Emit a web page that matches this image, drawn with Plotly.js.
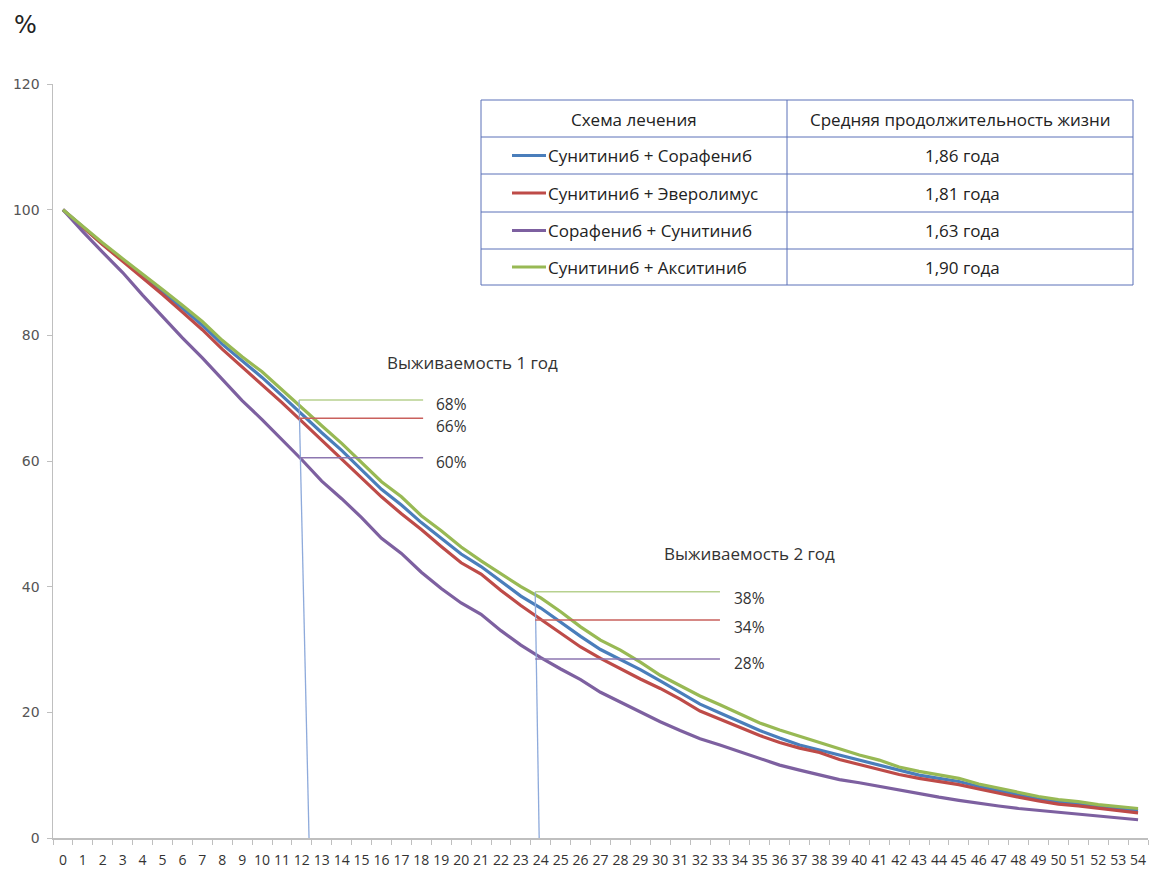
<!DOCTYPE html>
<html>
<head>
<meta charset="utf-8">
<script src="https://cdn.plot.ly/plotly-3.0.1.min.js"></script>
<style>html,body{margin:0;padding:0;background:#fff;}#chart{width:1150px;height:870px;}</style>
</head>
<body>
<div id="chart"></div>
<script>
// ---------- DATA ----------
const months = [0,1,2,3,4,5,6,7,8,9,10,11,12,13,14,15,16,17,18,19,20,21,22,23,24,25,26,27,28,29,30,31,32,33,34,35,36,37,38,39,40,41,42,43,44,45,46,47,48,49,50,51,52,53,54];

const seriesNames = ["Сунитиниб + Сорафениб", "Сунитиниб + Эверолимус", "Сорафениб + Сунитиниб", "Сунитиниб + Акситиниб"];
const medianSurvival = ["1,86 года", "1,81 года", "1,63 года", "1,90 года"];

const sunSor = [100,97.2,94.5,92.0,89.5,86.9,84.3,81.6,78.6,75.9,73.3,70.4,67.4,64.5,61.7,58.6,55.5,53.0,50.2,47.7,45.2,43.2,40.8,38.5,36.6,34.3,32.1,30.0,28.4,26.8,25.0,23.2,21.3,19.9,18.5,17.1,15.9,14.8,14.0,13.2,12.4,11.6,10.7,10.0,9.5,9.0,8.2,7.5,6.8,6.2,5.7,5.4,5.0,4.7,4.4];
const sunEve = [100,97.2,94.4,91.8,89.2,86.5,83.7,80.9,77.8,75.0,72.2,69.3,66.3,63.3,60.4,57.3,54.3,51.6,49.1,46.4,43.8,42.0,39.4,37.0,34.8,32.6,30.4,28.6,26.9,25.3,23.8,22.1,20.2,18.9,17.6,16.3,15.2,14.3,13.6,12.5,11.7,10.9,10.1,9.5,9.0,8.5,7.8,7.1,6.5,5.9,5.4,5.1,4.7,4.3,4.0];
const sorSun = [100,96.5,93.2,90.0,86.4,83.0,79.6,76.4,73.0,69.6,66.6,63.4,60.2,56.8,54.0,51.0,47.7,45.3,42.3,39.7,37.4,35.6,33.0,30.7,28.7,26.9,25.2,23.2,21.6,20.1,18.5,17.1,15.8,14.8,13.7,12.6,11.6,10.8,10.1,9.3,8.8,8.2,7.6,7.0,6.5,6.0,5.5,5.1,4.7,4.4,4.1,3.8,3.5,3.2,2.9];
const sunAxi = [100,97.3,94.7,92.2,89.8,87.3,84.8,82.2,79.2,76.6,74.2,71.3,68.5,65.6,62.8,59.8,56.7,54.3,51.3,48.9,46.3,44.1,42.0,40.0,38.2,36.0,33.6,31.5,29.9,28.0,25.9,24.3,22.6,21.2,19.8,18.3,17.2,16.2,15.1,14.1,13.2,12.4,11.3,10.6,10.1,9.5,8.6,7.9,7.2,6.6,6.1,5.8,5.3,5.0,4.7];

const tickY = [0,20,40,60,80,100,120];

// one-year and two-year survival annotations
const year1Labels = ["68%", "66%", "60%"];
const year1GuideY = [69.7, 66.8, 60.5];
const year1LabelY = [69.0, 65.6, 59.8];
const year2Labels = ["38%", "34%", "28%"];
const year2GuideY = [39.2, 34.7, 28.5];
const year2LabelY = [38.2, 33.6, 27.9];

// ---------- STYLE ----------
const colors = ["#4a7ebb", "#be4b48", "#7d60a0", "#98b954"];
const guideColors = ["#b7d18f", "#c9605d", "#8c76b0"];
const dataSets = [sunSor, sunEve, sorSun, sunAxi];

const L = 53, R = 1148, T = 84, B = 838;
const px = x => (x - L) / (R - L);
const py = y => (B - y) / (B - T);

const traces = dataSets.map((d, i) => ({
  x: months, y: d, type: "scatter", mode: "lines",
  line: {color: colors[i], width: 3.2}, name: seriesNames[i],
  hoverinfo: "x+y+name"
}));

const shapes = [];
const annotations = [];
const afont = {family:"Open Sans", size:17, color:"#333"};
const pfont = {family:"Open Sans", size:15.5, color:"#333"};

// vertical markers
shapes.push({type:"line", xref:"x", yref:"y", x0:11.86, y0:year1GuideY[0], x1:12.36, y1:0, line:{color:"#8eaadb", width:1.3}});
shapes.push({type:"line", xref:"x", yref:"y", x0:23.72, y0:year2GuideY[0], x1:23.92, y1:0, line:{color:"#8eaadb", width:1.3}});

year1GuideY.forEach((v, i) => {
  shapes.push({type:"line", xref:"x", yref:"y", x0:11.86, x1:18.09, y0:v, y1:v, line:{color:guideColors[i], width:1.5}});
  annotations.push({xref:"x", yref:"y", x:18.63, y:year1LabelY[i], text:year1Labels[i], showarrow:false, xanchor:"left", yanchor:"middle", font:pfont});
});
year2GuideY.forEach((v, i) => {
  shapes.push({type:"line", xref:"x", yref:"y", x0:23.72, x1:33.0, y0:v, y1:v, line:{color:guideColors[i], width:1.5}});
  annotations.push({xref:"x", yref:"y", x:33.6, y:year2LabelY[i], text:year2Labels[i], showarrow:false, xanchor:"left", yanchor:"middle", font:pfont});
});

annotations.push({xref:"x", yref:"y", x:16.2, y:75.6, text:"Выживаемость 1 год", showarrow:false, xanchor:"left", yanchor:"middle", font:afont});
annotations.push({xref:"x", yref:"y", x:30.1, y:45.2, text:"Выживаемость 2 год", showarrow:false, xanchor:"left", yanchor:"middle", font:afont});

// "%" label
annotations.push({xref:"paper", yref:"paper", x:px(12), y:py(25), text:"%", showarrow:false, xanchor:"left", yanchor:"middle", font:{family:"DejaVu Sans", size:24, color:"#222"}});

// table legend
const rowsY = [100, 137, 174, 212, 249, 285];
const colsX = [481, 787, 1133];
const tblColor = "#5a70b8";
rowsY.forEach(y => shapes.push({type:"line", xref:"paper", yref:"paper", x0:px(colsX[0]), x1:px(colsX[2]), y0:py(y), y1:py(y), line:{color:tblColor, width:1}}));
colsX.forEach(x => shapes.push({type:"line", xref:"paper", yref:"paper", x0:px(x), x1:px(x), y0:py(rowsY[0]), y1:py(rowsY[5]), line:{color:tblColor, width:1}}));
const tfont = {family:"Open Sans", size:17, color:"#222"};
annotations.push({xref:"paper", yref:"paper", x:px(634), y:py(120), text:"Схема лечения", showarrow:false, xanchor:"center", yanchor:"middle", font:tfont});
annotations.push({xref:"paper", yref:"paper", x:px(960), y:py(120), text:"Средняя продолжительность жизни", showarrow:false, xanchor:"center", yanchor:"middle", font:tfont});
seriesNames.forEach((n, i) => {
  const cy = (rowsY[i+1] + rowsY[i+2]) / 2;
  shapes.push({type:"line", xref:"paper", yref:"paper", x0:px(512), x1:px(546), y0:py(cy), y1:py(cy), line:{color:colors[i], width:3}});
  annotations.push({xref:"paper", yref:"paper", x:px(546), y:py(cy), text:n, showarrow:false, xanchor:"left", yanchor:"middle", font:tfont});
  annotations.push({xref:"paper", yref:"paper", x:px(962), y:py(cy), text:medianSurvival[i], showarrow:false, xanchor:"center", yanchor:"middle", font:tfont});
});

const boundaries = months.map(m => m - 0.5).concat([months[months.length-1] + 0.5]);

const layout = {
  width: 1150, height: 870, autosize: false,
  margin: {l: L, r: 1150 - R, t: T, b: 870 - B},
  paper_bgcolor: "#fff", plot_bgcolor: "#fff",
  showlegend: false,
  xaxis: {
    range: [-0.5, 54.5], tickmode: "array", tickvals: months, ticktext: months.map(String),
    ticks: "", showline: true, linecolor: "#bfbfbf", linewidth: 1.5, showgrid: false, zeroline: false,
    tickfont: {family: "Open Sans", size: 14, color: "#333"}, ticklabelstandoff: 9,
    minor: {tickmode: "array", tickvals: boundaries, ticks: "outside", ticklen: 5, tickcolor: "#bfbfbf", tickwidth: 1, showgrid: false}
  },
  yaxis: {
    range: [0, 120], tickmode: "array", tickvals: tickY, ticktext: tickY.map(String),
    ticks: "outside", ticklen: 5, tickcolor: "#bfbfbf", tickwidth: 1,
    showline: true, linecolor: "#bfbfbf", linewidth: 1.5, showgrid: false, zeroline: false,
    tickfont: {family: "DejaVu Sans", size: 14, color: "#555"}, ticklabelstandoff: 4
  },
  shapes: shapes,
  annotations: annotations
};

Plotly.newPlot("chart", traces, layout, {displayModeBar: false, staticPlot: true});
</script>
</body>
</html>
